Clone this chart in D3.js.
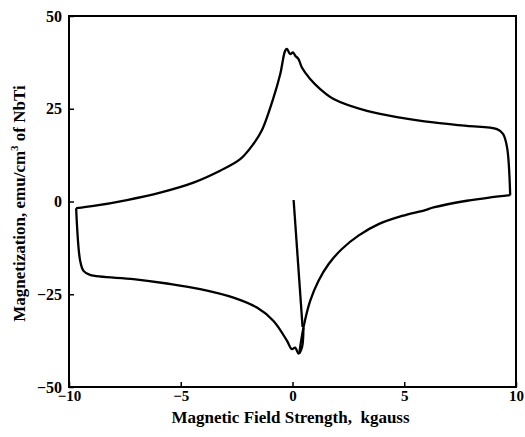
<!DOCTYPE html>
<html>
<head>
<meta charset="utf-8">
<script src="https://cdn.jsdelivr.net/npm/d3@7"></script>
<style>
  body { margin: 0; background: #fff; }
</style>
</head>
<body>
<script>
//#### DATA ####
// virgin curve: starts at zero field, drops to the lower branch
var virginH = [0.05, 0.45];
var virginM = [0.4, -33.8];

// lower branch, field rising from the minimum to +10
var riseH = [0.3, 0.49, 0.79, 1.16, 1.61, 2.21, 2.95, 3.85, 4.9, 5.94, 6.31, 7.8, 8.85, 9.74];
var riseM = [-41, -34, -26.8, -21.4, -16.9, -12.8, -9.2, -6.1, -3.9, -2.3, -1.6, 0.2, 1.1, 1.7];

// upper branch, field falling from +10 to -10
var fallH = [9.74, 9.6, 9.42, 9.15, 7.8, 6.31, 4.82, 3.33, 1.84, 1.24, 0.79, 0.42, 0.27, 0.12, 0.02, -0.1, -0.25, -0.33,
             -0.55, -0.85, -1.37, -1.75, -2.34, -3.24, -4.43, -5.92, -7.41, -8.9, -9.68];
var fallM = [1.7, 14.6, 18.2, 19.5, 20.4, 21.3, 22.6, 24.4, 27.6, 30.3, 33, 36.1, 38.4, 39.3, 40.2, 39.7, 41.1, 40.6,
             34.3, 28, 19.2, 15.5, 11.4, 8.3, 5.1, 2.4, 0.4, -1.2, -1.8];

// lower branch, field rising from -10 back to the minimum
var returnH = [-9.68, -9.5, -9.35, -9.06, -7.12, -5.62, -4.13, -2.64, -1.59, -0.85, -0.25, -0.03, 0.12, 0.27, 0.42, 0.49];
var returnM = [-1.8, -16, -18.7, -19.8, -20.9, -22.1, -23.6, -25.9, -28.6, -32.2, -37.5, -39.8, -39.4, -41, -39.4, -34];

var xTicks = [-10, -5, 0, 5, 10];
var yTicks = [-50, -25, 0, 25, 50];
//##############

var font = "'Liberation Serif', 'Times New Roman', serif";

var width_outer = 525;
var height_outer = 437;
var margin = {top: 16, right: 9, bottom: 50, left: 69};
var width = width_outer - margin.left - margin.right;
var height = height_outer - margin.top - margin.bottom;

var svg = d3.select("body").append("svg")
  .attr("width", width_outer)
  .attr("height", height_outer)
  .append("g")
    .attr("transform", "translate(" + margin.left + "," + margin.top + ")");

var x = d3.scaleLinear()
  .domain([-10, 10])
  .range([0, width]);

var y = d3.scaleLinear()
  .domain([-50, 50])
  .range([height, 0]);

// axes with ticks pointing inward
var xAxis = d3.axisBottom(x).tickValues(xTicks).tickSizeInner(-5).tickSizeOuter(0).tickPadding(3);
var yAxis = d3.axisLeft(y).tickValues(yTicks).tickSizeInner(-5).tickSizeOuter(0).tickPadding(7);

var gx = svg.append("g")
  .attr("transform", "translate(0," + height + ")")
  .call(xAxis);
var gy = svg.append("g").call(yAxis);

[gx, gy].forEach(function(g) {
  g.attr("font-family", font).attr("font-size", 16).attr("font-weight", "bold");
  g.select(".domain").remove();
  g.selectAll("line").attr("stroke", "#000").attr("stroke-width", 1.5);
  g.selectAll("text").attr("fill", "#000");
});
gx.attr("font-size", 15);

// frame
svg.append("rect")
  .attr("x", 0).attr("y", 0)
  .attr("width", width).attr("height", height)
  .attr("fill", "none")
  .attr("stroke", "#000")
  .attr("stroke-width", 2);

// curves
var line = d3.line()
  .curve(d3.curveCatmullRom.alpha(0.5))
  .x(function(d) { return x(d.x); })
  .y(function(d) { return y(d.y); });

function pts(H, M) {
  return H.map(function(v, i) { return {x: v, y: M[i]}; });
}

[pts(virginH, virginM), pts(riseH, riseM), pts(fallH, fallM), pts(returnH, returnM)].forEach(function(seg) {
  svg.append("path")
    .datum(seg)
    .attr("fill", "none")
    .attr("stroke", "#000")
    .attr("stroke-width", 2.3)
    .attr("stroke-linejoin", "round")
    .attr("d", line);
});

// axis titles
svg.append("text")
  .attr("x", width / 2 - 2)
  .attr("y", height + 36)
  .attr("text-anchor", "middle")
  .attr("font-family", font)
  .attr("font-weight", "bold")
  .attr("font-size", 17)
  .style("white-space", "pre")
  .text("Magnetic Field Strength,  kgauss");

var yt = svg.append("text")
  .attr("transform", "translate(-44," + (height / 2 + 2) + ") rotate(-90)")
  .attr("text-anchor", "middle")
  .attr("font-family", font)
  .attr("font-weight", "bold")
  .attr("font-size", 17);
yt.append("tspan").text("Magnetization, emu/cm");
yt.append("tspan").attr("font-size", 11).attr("dy", -7).text("3");
yt.append("tspan").attr("dy", 7).text(" of NbTi");
</script>
</body>
</html>
